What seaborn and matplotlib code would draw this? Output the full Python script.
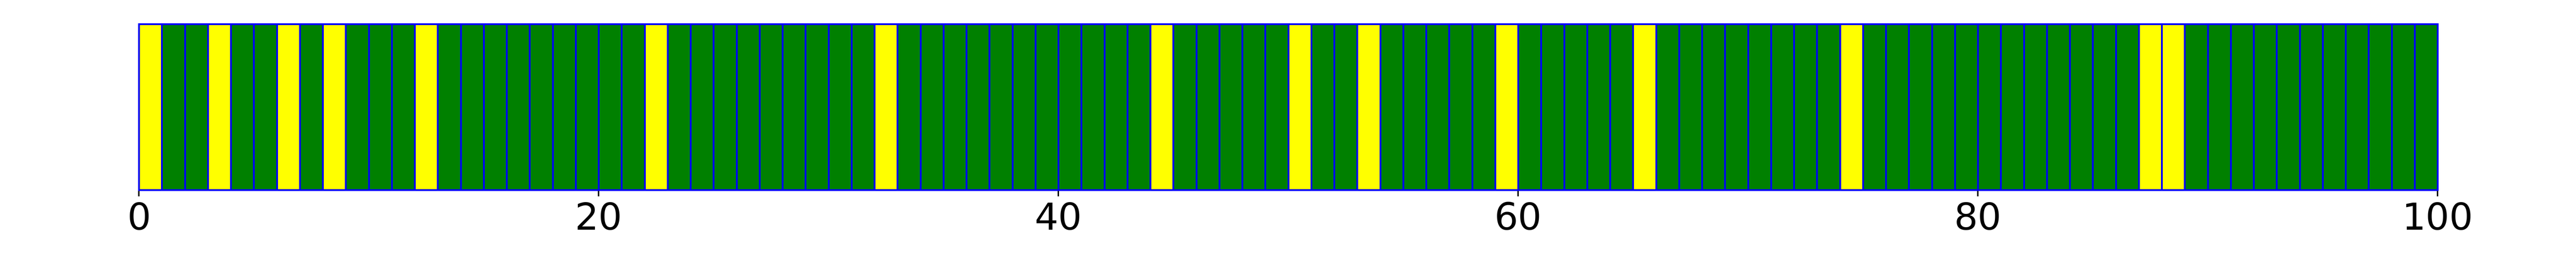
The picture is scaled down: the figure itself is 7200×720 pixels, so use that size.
import numpy as np
import matplotlib
matplotlib.use("Agg")
import matplotlib.pyplot as plt
import pandas as pd
import seaborn as sns

# 每个格子的颜色 (0..99)
yellow_slots = [0, 3, 6, 8, 12, 22, 32, 44, 50, 53, 59, 65, 74, 87, 88]
n_slots = 100
slot_start = list(range(n_slots))
slot_height = [1] * n_slots
slot_color = ["yellow" if i in yellow_slots else "green" for i in slot_start]
xticks = [0, 20, 40, 60, 80, 100]

df = pd.DataFrame({
    "center": np.array(slot_start) + 0.5,
    "height": slot_height,
    "color": slot_color,
})

sns.set_style("white")
plt.rcParams['font.family'] = ['DejaVu Sans']

fig = plt.figure(figsize=(72, 7.2), dpi=100)
ax = fig.add_axes([388 / 7200, 1 - 530 / 720, (6813 - 388) / 7200, 463 / 720])

sns.barplot(data=df, x="center", y="height", hue="color",
            palette={"yellow": "yellow", "green": "green"},
            native_scale=True, width=1, dodge=False, saturation=1,
            errorbar=None, legend=False, ax=ax)
for p in ax.patches:
    p.set_edgecolor("blue")
    p.set_linewidth(3.6)
    p.set_clip_on(False)

ax.set_xlim(0, 100)
ax.set_ylim(0, 1)
ax.set_xticks(xticks)
ax.set_xticklabels([str(t) for t in xticks])
ax.set_yticks([])
ax.set_xlabel("")
ax.set_ylabel("")
for s in ax.spines.values():
    s.set_visible(False)
ax.tick_params(axis="x", bottom=True, length=12.7, width=2.9, labelsize=75,
               pad=10, colors="black")

fig.savefig("out.png", dpi=100)
